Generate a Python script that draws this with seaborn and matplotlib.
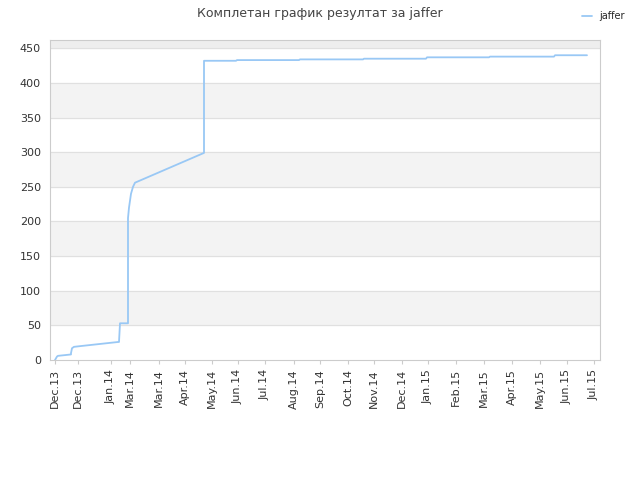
import matplotlib
matplotlib.use("Agg")
import matplotlib.pyplot as plt
import seaborn as sns
import pandas as pd

# x positions (day-like units from axis start), values
xs = [5, 7, 8, 21, 21, 22, 24, 30, 68, 69, 70, 78, 78, 79, 81, 83, 85, 154, 154, 155, 186, 187, 249, 250, 313, 314, 376, 377, 439, 440, 504, 505, 537]
ys = [0, 5, 6, 8, 10, 17, 19, 20, 26, 26, 53, 53, 205, 220, 240, 250, 256, 299, 432, 432, 432, 433, 433, 434, 434, 435, 435, 437, 437, 438, 438, 440, 440]
tick_pos = [5, 28, 61, 80, 109, 135, 162, 188, 215, 244, 270, 298, 324, 352, 378, 406, 434, 462, 490, 517, 544]
tick_labels = ["Dec.13", "Dec.13", "Jan.14", "Mar.14", "Mar.14", "Apr.14", "May.14", "Jun.14", "Jul.14",
               "Aug.14", "Sep.14", "Oct.14", "Nov.14", "Dec.14", "Jan.15", "Feb.15", "Mar.15", "Apr.15",
               "May.15", "Jun.15", "Jul.15"]

sns.set_style("white")
fig = plt.figure(figsize=(6.4, 4.8), dpi=100)
ax = fig.add_axes([50/640, 120/480, 550/640, 320/480])
df = pd.DataFrame({"x": xs, "y": ys, "order": range(len(xs))})
sns.lineplot(data=df, x="x", y="y", ax=ax, color="#99c8f5", linewidth=1.3, label="jaffer",
             sort=False, estimator=None, units="order" if False else None)
ax.set_xlim(0, 550)
ax.set_ylim(0, 462)
for lo in [50, 150, 250, 350]:
    ax.axhspan(lo, lo + 50, color="#f3f3f3", zorder=0)
ax.axhspan(450, 462, color="#eeeeee", zorder=0)
for yv in range(50, 451, 50):
    ax.axhline(yv, color="#e0e0e0", linewidth=0.8, zorder=0.5)
ax.set_yticks(range(0, 451, 50))
ax.set_xticks(tick_pos)
ax.set_xticklabels(tick_labels, rotation=90)
ax.tick_params(labelsize=8, colors="#333333", length=3)
ax.tick_params(axis="x", bottom=True, color="#cccccc")
ax.set_xlabel("")
ax.set_ylabel("")
for s in ax.spines.values():
    s.set_color("#cccccc")
ax.get_legend().remove()
fig.legend(loc="upper right", bbox_to_anchor=(0.99, 0.995), frameon=False, fontsize=7, handlelength=1)
fig.suptitle("Комплетан график резултат за jaffer", fontsize=9, color="#444444", y=0.985)
fig.savefig("out.png", dpi=100)
